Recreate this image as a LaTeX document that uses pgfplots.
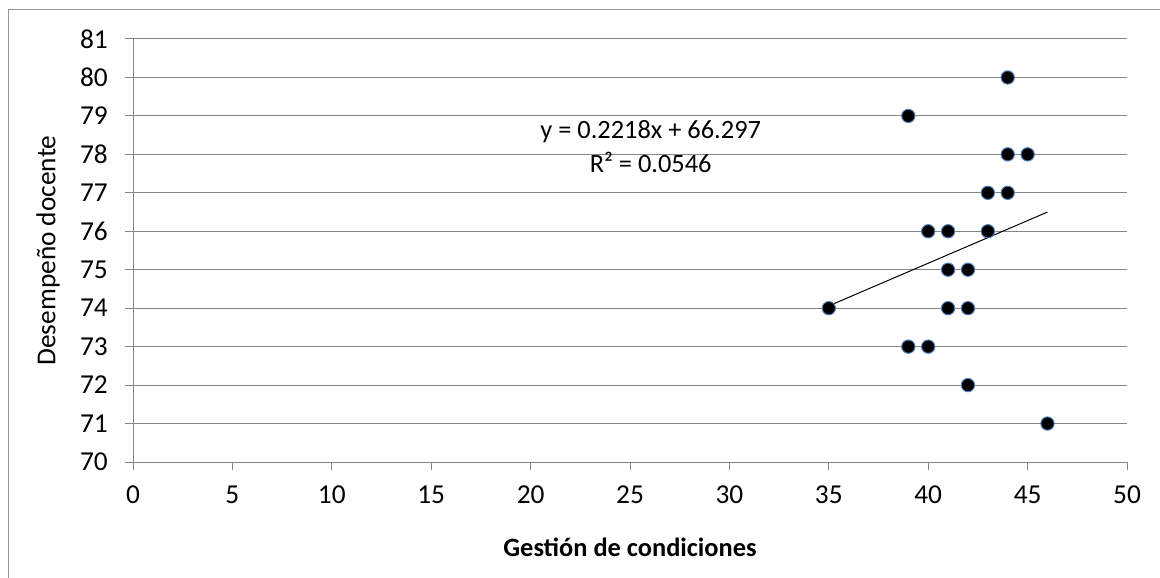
\documentclass[border=0pt]{standalone}
\usepackage{fontspec}
\setmainfont{Carlito}
\usepackage{pgfplots}
\pgfplotsset{compat=1.18}
\definecolor{gridc}{RGB}{134,134,134}
\definecolor{framec}{RGB}{150,150,150}
\definecolor{mkedge}{RGB}{79,129,189}
\newcommand{\fs}{\fontsize{20.5}{24}\selectfont}
\newcommand{\fe}{\fontsize{19.8}{24}\selectfont}
\newcommand{\fb}{\fontsize{19.8}{24}\selectfont\bfseries}
\begin{document}
\begin{tikzpicture}
\useasboundingbox (0,0) rectangle (870pt,433.5pt);
\draw[framec, line width=0.75pt] (6pt,0) -- (6pt,426pt) -- (870pt,426pt);
\begin{axis}[
  at={(99.75pt,87pt)}, anchor=south west,
  scale only axis, width=745.5pt, height=317.25pt,
  xmin=0, xmax=50, ymin=70, ymax=81,
  xtick={0,5,...,50}, ytick={70,71,...,81},
  axis x line*=bottom, axis y line*=left,
  axis line style={gridc, line width=0.75pt, -},
  tick align=outside, major tick length=6pt,
  tick style={gridc, line width=0.75pt},
  ymajorgrids, grid style={gridc, line width=0.75pt},
  /pgf/number format/assume math mode=true,
  tick label style={font=\fs, inner sep=0pt, text=black},
  yticklabel style={xshift=-12.75pt},
  xticklabel style={anchor=base, yshift=-25pt},
  xlabel={Gestión de condiciones},
  ylabel={Desempeño docente},
  xlabel style={font=\fb, at={(axis description cs:0.5,-0.2239)}, anchor=base},
  ylabel style={font=\fs, at={(axis description cs:-0.0855,0.5)}, anchor=center, rotate=0},
  clip=false,
]
\addplot[black, line width=0.75pt] coordinates {(35,74.060) (46,76.500)};
\addplot[only marks, mark=*, mark size=5pt, mark options={fill=black, draw=mkedge, line width=0.75pt}] coordinates {
(44,80) (39,79) (44,78) (45,78) (43,77) (44,77)
(40,76) (41,76) (43,76) (41,75) (42,75)
(35,74) (41,74) (42,74) (39,73) (40,73) (42,72) (46,71)
};
\node[font=\fe, anchor=base] at (axis cs:26.04,78.40) {y = 0.2218x + 66.297};
\node[font=\fe, anchor=base] at (axis cs:26.04,77.52) {R² = 0.0546};
\end{axis}
\end{tikzpicture}
\end{document}
